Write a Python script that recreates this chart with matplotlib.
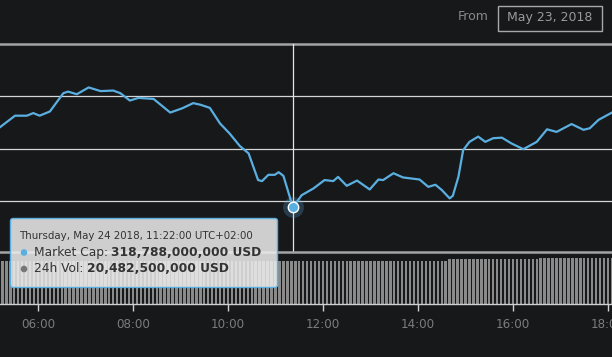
import matplotlib
matplotlib.use("Agg")
import matplotlib.pyplot as plt
from matplotlib.patches import FancyBboxPatch, Rectangle, Circle

plt.rcParams['font.family'] = ['DejaVu Sans']

# ---------------- data ----------------
cap_times = ["05:12", "05:31", "05:46", "05:54", "06:02", "06:15", "06:32", "06:38", "06:49",
             "07:04", "07:19", "07:35", "07:44", "07:56", "08:07", "08:26", "08:47", "09:02",
             "09:16", "09:25", "09:37", "09:50", "10:02", "10:15", "10:26", "10:38", "10:43",
             "10:51", "10:59", "11:04", "11:10", "11:22", "11:33", "11:48", "12:02", "12:13",
             "12:19", "12:30", "12:43", "12:59", "13:10", "13:16", "13:29", "13:41", "14:02",
             "14:13", "14:22", "14:30", "14:40", "14:44", "14:51", "14:57", "15:05", "15:16",
             "15:25", "15:35", "15:46", "15:58", "16:13", "16:30", "16:43", "16:55", "17:14",
             "17:29", "17:37", "17:48", "18:05"]
market_cap_bn = [334.1, 336.3, 336.3, 336.8, 336.3, 337.1, 340.6, 340.9, 340.4,
                 341.7, 341.0, 341.1, 340.6, 339.2, 339.7, 339.5, 336.9, 337.7,
                 338.7, 338.4, 337.8, 334.8, 332.9, 330.5, 329.1, 324.0, 323.8,
                 325.0, 325.0, 325.5, 324.8, 318.788, 321.1, 322.4, 324.0, 323.8,
                 324.6, 322.9, 323.9, 322.2, 324.1, 324.0, 325.3, 324.5, 324.1,
                 322.7, 323.1, 322.1, 320.5, 321.0, 324.6, 329.7, 331.3, 332.3,
                 331.3, 332.0, 332.1, 331.0, 329.9, 331.3, 333.7, 333.2, 334.7,
                 333.6, 333.9, 335.5, 336.9]

vol_start = "05:10"          # first 5-minute volume bar
vol_step_min = 5
volume_bn = [
    20.48, 20.48, 20.48, 20.48, 20.48, 20.48, 20.48, 20.48, 20.48, 20.48, 20.48, 20.48,
    20.48, 20.48, 20.48, 20.48, 20.48, 20.48, 20.48, 20.48, 20.48, 20.48, 20.48, 20.48,
    20.48, 20.48, 20.48, 20.48, 20.48, 20.48, 20.48, 20.48, 20.48, 20.48, 20.48, 20.48,
    20.48, 20.48, 20.48, 20.48, 20.48, 20.48, 20.48, 20.48, 20.48, 20.48, 20.48, 20.48,
    20.48, 20.48, 20.48, 20.48, 20.48, 20.48, 20.48, 20.48, 20.48, 20.48, 20.48, 20.48,
    20.48, 20.48, 20.48, 20.48, 20.48, 20.48, 20.48, 20.48, 20.48, 20.48, 20.48, 20.48,
    20.48, 20.48, 20.48, 20.48,
    20.9, 20.9, 20.9, 20.9, 20.9, 20.9, 20.9, 20.9, 20.9, 20.9, 20.9, 20.9,
    20.9, 20.9, 20.9, 20.9, 20.9, 20.9, 20.9, 20.9, 20.9, 20.9, 20.9, 20.9,
    20.9, 20.9, 20.9, 20.9, 20.9, 20.9, 20.9, 20.9, 20.9, 20.9, 20.9, 20.9,
    20.9, 20.9,
    21.4, 21.4, 21.4,
    21.8, 21.8, 21.8, 21.8, 21.8, 21.8, 21.8, 21.8, 21.8, 21.8,
    21.8, 21.8, 21.8, 21.8, 21.8, 21.8, 21.8, 21.8, 21.8, 21.8,
    22.3, 22.3, 22.3, 22.3, 22.3, 22.3, 22.3, 22.3, 22.3, 22.3,
    22.3, 22.3, 22.3, 22.3, 22.3, 22.3, 22.3, 22.3, 22.3]

tick_hours = [6, 8, 10, 12, 14, 16, 18]
tick_labels = ["06:00", "08:00", "10:00", "12:00", "14:00", "16:00", "18:00"]
price_grid = [320, 330, 340]
price_top = 350

hover_time = "11:22"
hover_cap_bn = 318.788
hover_vol_bn = 20.4825
tooltip_date = "Thursday, May 24 2018, 11:22:00 UTC+02:00"
from_label = "From"
from_date = "May 23, 2018"


def to_h(s):
    h, m = s.split(":")
    return int(h) + int(m) / 60.0


cap_x = [to_h(t) for t in cap_times]
v0 = to_h(vol_start)
vol_x = [v0 + i * vol_step_min / 60.0 for i in range(len(volume_bn))]

# ---------------- figure ----------------
W, H = 612, 357
BG = "#17181a"
BLUE = "#5aafe1"
fig = plt.figure(figsize=(W / 100, H / 100), dpi=100, facecolor=BG)

XMIN, XMAX = 5.2, 18.084


def fr(top, bottom):
    return (H - bottom) / H, (bottom - top) / H


# price axes: pixel rows 44..252
b, h = fr(44, 252)
axp = fig.add_axes([0, b, 1, h], facecolor="none")
axp.set_xlim(XMIN, XMAX)
axp.set_ylim(310.25, 350)
for s in axp.spines.values():
    s.set_visible(False)
axp.set_xticks([])
axp.set_yticks([])
for g in price_grid:
    axp.axhline(g, color="#d6d6d6", lw=0.9, zorder=1)
axp.axhline(price_top, color="#a4a4a4", lw=1.8, zorder=1, clip_on=False)

# volume axes: pixel rows 252..304
b, h = fr(252, 304)
axv = fig.add_axes([0, b, 1, h], facecolor="none")
axv.set_xlim(XMIN, XMAX)
axv.set_ylim(0, 25)
for s in axv.spines.values():
    s.set_visible(False)
axv.bar(vol_x, volume_bn, width=0.62 * vol_step_min / 60.0, color="#8a8a8a",
        align="center", zorder=2)
axv.axhline(25, color="#a4a4a4", lw=1.8, zorder=3, clip_on=False)
axv.axhline(0, color="#d0d0d0", lw=1.0, zorder=3, clip_on=False)
axv.set_yticks([])
axv.set_xticks(tick_hours)
axv.set_xticklabels(tick_labels)
axv.tick_params(axis="x", direction="out", length=5, width=1, color="#d0d0d0",
                labelcolor="#7c7c7c", labelsize=8.6, pad=5)

# crosshair + line + marker
hx = to_h(hover_time)
axp.axvline(hx, color="#e6e6e6", lw=0.9, zorder=2, clip_on=False)
axp.plot(cap_x, market_cap_bn, color=BLUE, lw=1.6, solid_joinstyle="round", zorder=4)
axp.plot([hx], [hover_cap_bn], "o", ms=15, color=BLUE, alpha=0.25, mec="none", zorder=5)
axp.plot([hx], [hover_cap_bn], "o", ms=7.5, color=BLUE, mec="white", mew=1.0, zorder=6)

# overlay for header and tooltip (pixel coords)
ov = fig.add_axes([0, 0, 1, 1], facecolor="none")
ov.set_xlim(0, W)
ov.set_ylim(H, 0)
ov.axis("off")
ov.set_zorder(10)

ov.text(489, 17, from_label, ha="right", va="center", color="#8a8a8a", fontsize=9)
ov.add_patch(Rectangle((498, 6), 104, 24.5, fc="none", ec="#a8a8a8", lw=1.0))
ov.text(550, 17.5, from_date, ha="center", va="center", color="#9a9a9a", fontsize=9)

ov.add_patch(FancyBboxPatch((10.5, 218.5), 267, 69,
                            boxstyle="round,pad=0,rounding_size=2.5",
                            fc=(0.93, 0.93, 0.93, 0.86), ec=BLUE, lw=1.0))
ov.text(19, 236, tooltip_date, ha="left", va="center", color="#333333", fontsize=7.4)

ov.add_patch(Circle((24, 252.5), 3.3, fc=BLUE, ec="none"))
t1 = ov.text(33.5, 252.5, "Market Cap: ", ha="left", va="center", color="#333333",
             fontsize=8.8)
ov.annotate(f"{hover_cap_bn * 1e9:,.0f} USD", xy=(1, 0.5), xycoords=t1,
            ha="left", va="center", color="#333333", fontsize=8.8, fontweight="bold")

ov.add_patch(Circle((24, 269), 3.3, fc="#777777", ec="none"))
t2 = ov.text(33.5, 269, "24h Vol: ", ha="left", va="center", color="#333333",
             fontsize=8.8)
ov.annotate(f"{hover_vol_bn * 1e9:,.0f} USD", xy=(1, 0.5), xycoords=t2,
            ha="left", va="center", color="#333333", fontsize=8.8, fontweight="bold")

fig.savefig("out.png", dpi=100, facecolor=BG)
